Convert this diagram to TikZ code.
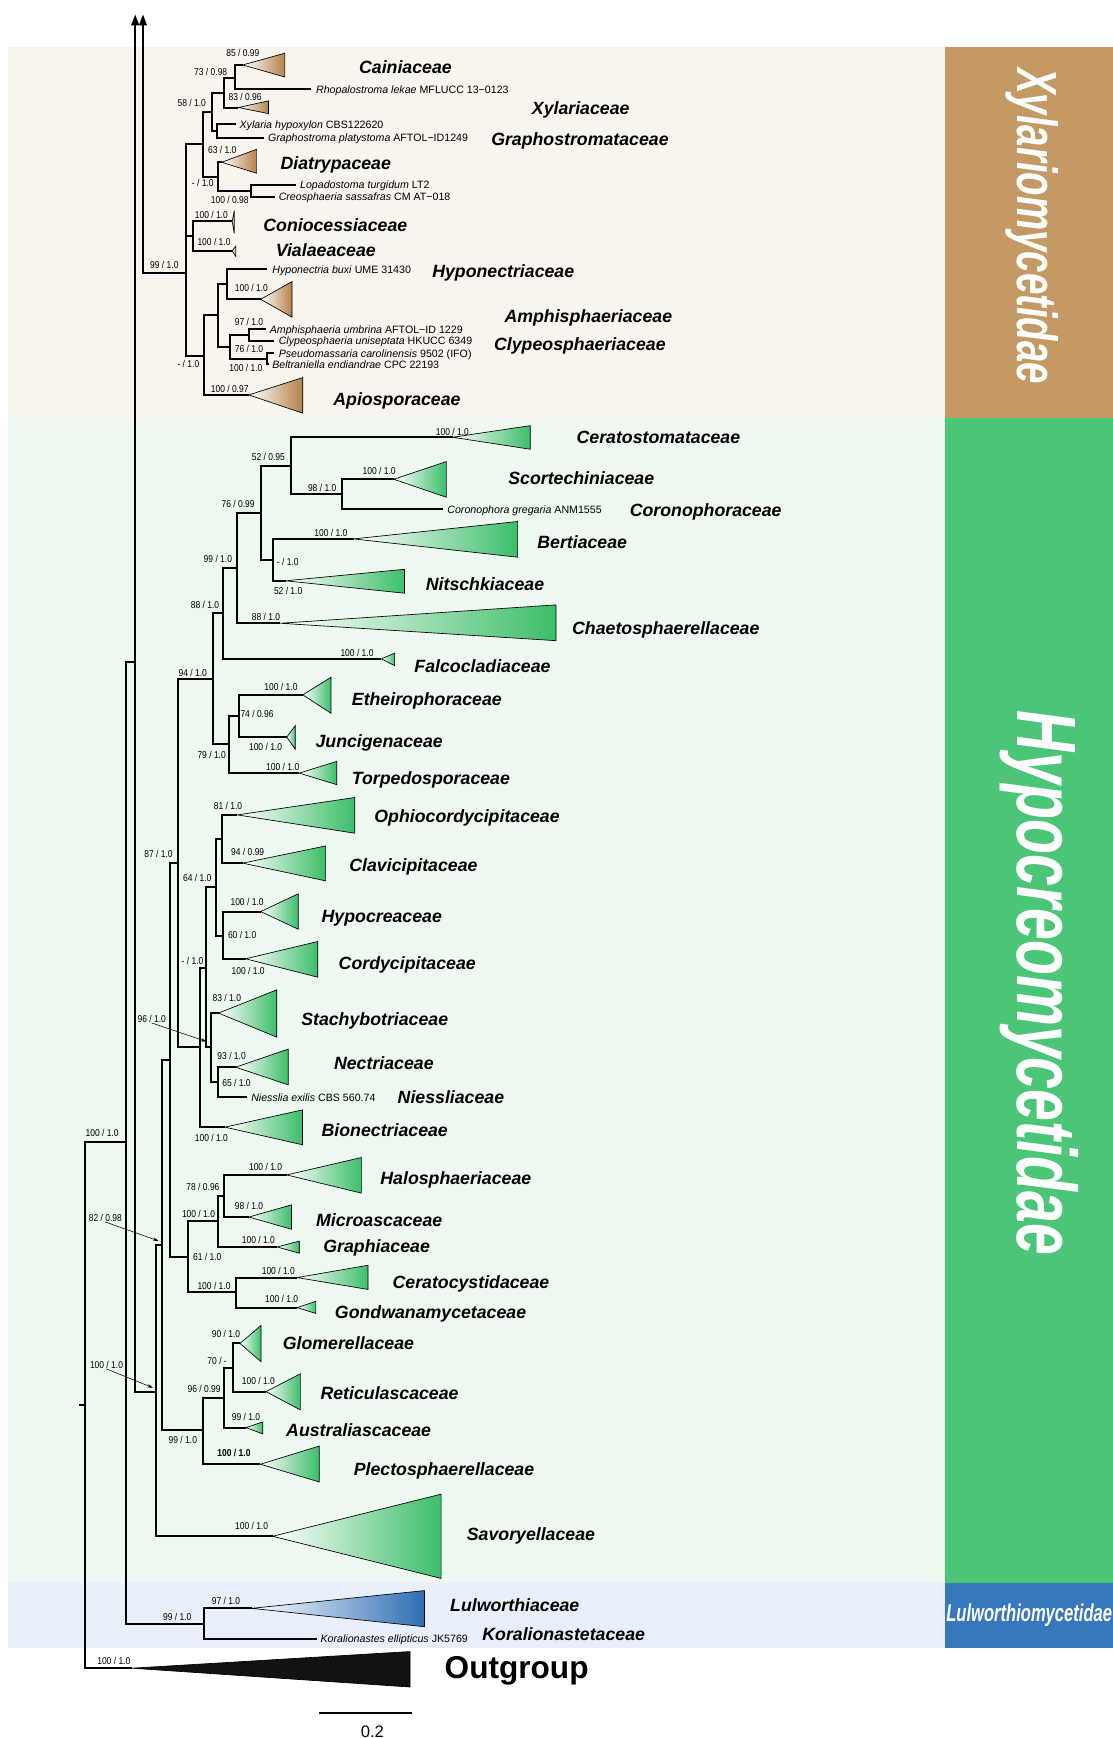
\documentclass[tikz,border=0pt]{standalone}
\usepackage{fontspec}
\setmainfont{Liberation Sans}
\newfontfamily\suppfont[FakeStretch=0.85]{Liberation Sans}
\newfontfamily\condfont[FakeStretch=0.68]{Liberation Sans}
\usetikzlibrary{arrows.meta}

\definecolor{xylbg}{RGB}{248,245,238}
\definecolor{xylbar}{RGB}{196,153,99}
\definecolor{xyltri}{RGB}{180,130,75}
\definecolor{hypbg}{RGB}{237,248,240}
\definecolor{hypbar}{RGB}{75,197,118}
\definecolor{hyptri}{RGB}{60,190,105}
\definecolor{lulbg}{RGB}{233,239,248}
\definecolor{lulbar}{RGB}{55,119,189}
\definecolor{lultri}{RGB}{45,110,180}

% collapsed clade: tip, base x, top y, bottom y, colour
\newcommand{\clade}[5]{%
  \shade[left color=white, right color=#5] (#1) -- (#2,#3) -- (#2,#4) -- cycle;
  \draw[tri] (#1) -- (#2,#3) -- (#2,#4) -- cycle;}

\begin{document}
\begin{tikzpicture}[x=1pt, y=-1pt,
  branch/.style={line width=1.8pt},
  tri/.style={draw=black, line width=0.6pt, line join=miter},
  pointer/.style={line width=0.5pt, -{Stealth[length=5pt,width=3pt]}},
  supp/.style={anchor=west, inner sep=0pt, text height=6.5pt, text depth=0pt, font=\suppfont\fontsize{9}{10}\selectfont},
  taxon/.style={anchor=west, inner sep=0pt, text height=7pt, text depth=0pt, font=\fontsize{9.6}{11}\selectfont},
  family/.style={anchor=west, inner sep=0pt, text height=11.5pt, text depth=0pt, font=\bfseries\itshape\fontsize{16}{18}\selectfont},
  bandlabel/.style={text=white, inner sep=0pt}]

\useasboundingbox (0,0) rectangle (1004,1568);

% background bands
\fill[xylbg] (7,42) rectangle (853,377);
\fill[hypbg] (7,377) rectangle (853,1428);
\fill[lulbg] (7,1428) rectangle (853,1487);
\fill[xylbar] (853,42) rectangle (1004,377);
\fill[hypbar] (853,377) rectangle (1004,1428);
\fill[lulbar] (853,1428) rectangle (1004,1487);

\node[bandlabel, rotate=-90, font=\condfont\bfseries\itshape\fontsize{51}{55}\selectfont] (xylname) at (931,204) {Xylariomycetidae};
\node[bandlabel, rotate=-90, font=\condfont\bfseries\itshape\fontsize{76}{80}\selectfont] (hypname) at (938,887) {Hypocreomycetidae};
\node[bandlabel, font=\condfont\bfseries\itshape\fontsize{22}{24}\selectfont] (lulname) at (928.5,1457) {Lulworthiomycetidae};

% backbone
\coordinate (rootstub) at (71,1268);
\coordinate (root) at (77,1268);
\coordinate (nB) at (114,1030);
\coordinate (outgrp) at (119,1505);
\coordinate (nC) at (122,597);
\coordinate (ctop) at (122,13);
\coordinate (xtop) at (129,13);
\coordinate (nLul) at (184,1465);
\coordinate (lul) at (227,1451);
\coordinate (koral) at (286,1478.5);
\coordinate (nD) at (141,1255.5);
\coordinate (savor) at (246,1386);
\coordinate (nE) at (146.6,1123);
\coordinate (nF) at (182.7,1290.5);
\coordinate (nG) at (202,1261);
\coordinate (plecto) at (235,1321);
\coordinate (nH) at (210,1234);
\coordinate (austr) at (222,1288);
\coordinate (glom) at (216.5,1212);
\coordinate (retic) at (240,1255.5);
\coordinate (nI) at (153,956);
\coordinate (nJ) at (170,1134);
\coordinate (nK) at (196.5,1102);
\coordinate (nL) at (202,1079);
\coordinate (halo) at (258.7,1060);
\coordinate (micro) at (224.5,1098);
\coordinate (graph) at (250,1125);
\coordinate (nM) at (213,1166);
\coordinate (cerato) at (268,1152.6);
\coordinate (gondw) at (268,1179.7);
\coordinate (nN) at (161,778.7);
\coordinate (nO) at (192,612.8);
\coordinate (nP) at (180.4,945);
\coordinate (nQ) at (201.4,553.2);
\coordinate (nR) at (206.8,671.4);
\coordinate (nS) at (214,512.6);
\coordinate (falco) at (344,594.4);
\coordinate (nT) at (235.2,463);
\coordinate (chaeto) at (253,562.3);
\coordinate (nU) at (262.6,420.4);
\coordinate (nV) at (246.5,505.4);
\coordinate (berti) at (319,486.2);
\coordinate (nitsch) at (257.7,524);
\coordinate (ceratost) at (408.5,394.5);
\coordinate (nW) at (308.3,445.9);
\coordinate (scort) at (355.3,432.4);
\coordinate (corono) at (399.5,459.4);
\coordinate (nX) at (215.2,645.9);
\coordinate (torpedo) at (270,697.5);
\coordinate (etheir) at (273.2,626.9);
\coordinate (juncig) at (258.7,665);
\coordinate (nY) at (186.2,873.5);
\coordinate (bionec) at (203,1016.9);
\coordinate (nZ) at (195,800.5);
\coordinate (nAA) at (190.7,945);
\coordinate (stachy) at (197.2,914);
\coordinate (nAB) at (196.5,976.6);
\coordinate (nectr) at (212.6,962.8);
\coordinate (niessl) at (223,989.8);
\coordinate (nAC) at (200.4,757.1);
\coordinate (nAD) at (201.4,844);
\coordinate (ophio) at (214.2,735.2);
\coordinate (clavi) at (219,778.7);
\coordinate (hypocr) at (235.2,822.4);
\coordinate (cordy) at (221.6,865);

% Xylariomycetidae
\coordinate (nXA) at (168,246);
\coordinate (nXyl) at (183,129.5);
\coordinate (nX1) at (191.5,100.7);
\coordinate (nX2) at (202,84);
\coordinate (nX3) at (212,70.7);
\coordinate (cain) at (219,58.6);
\coordinate (rhopa) at (281,80.6);
\coordinate (xylar) at (215,97);
\coordinate (nX4) at (195.6,118.2);
\coordinate (xylhyp) at (212.6,112.1);
\coordinate (graphpl) at (238.4,124.2);
\coordinate (nX5) at (196.5,159.4);
\coordinate (diatr) at (200,146.4);
\coordinate (nX6) at (226.5,172.2);
\coordinate (lopad) at (266.8,166.9);
\coordinate (creos) at (248,177.4);
\coordinate (nCon) at (174,213);
\coordinate (conio) at (209.5,199.8);
\coordinate (viala) at (209.5,226.3);
\coordinate (nAmp) at (184.3,321);
\coordinate (apio) at (224.5,356.3);
\coordinate (nA1) at (196.5,284.5);
\coordinate (nA2) at (205.2,256.4);
\coordinate (hypon) at (241,242.9);
\coordinate (amph) at (235.2,270);
\coordinate (nA3) at (207.2,313.5);
\coordinate (nA4) at (224.5,302.3);
\coordinate (amphum) at (240,297);
\coordinate (clyp) at (247.4,307.6);
\coordinate (nA5) at (240.5,323.7);
\coordinate (pseud) at (247.4,318.7);
\coordinate (beltr) at (243,328.6);

% collapsed clades
\clade{cain}{257}{48}{69.5}{xyltri}
\clade{xylar}{242.3}{91}{102.5}{xyltri}
\clade{diatr}{231.5}{134.7}{156.3}{xyltri}
\clade{conio}{211.3}{190}{210.5}{xyltri}
\clade{viala}{212.8}{222}{231.5}{xyltri}
\clade{amph}{263.5}{254}{286.2}{xyltri}
\clade{apio}{273.2}{340.6}{372.8}{xyltri}
\clade{ceratost}{478.4}{384}{405.3}{hyptri}
\clade{scort}{402.7}{416.4}{448.6}{hyptri}
\clade{berti}{467}{470.5}{502.7}{hyptri}
\clade{nitsch}{365}{513.6}{535.2}{hyptri}
\clade{chaeto}{501.6}{545.7}{578}{hyptri}
\clade{falco}{356}{589.3}{600.5}{hyptri}
\clade{etheir}{298.6}{611}{643.5}{hyptri}
\clade{juncig}{266.4}{654.6}{675.9}{hyptri}
\clade{torpedo}{303.8}{686.9}{707.9}{hyptri}
\clade{ophio}{320}{719.5}{751.7}{hyptri}
\clade{clavi}{293.8}{763.2}{794.7}{hyptri}
\clade{hypocr}{269}{806.4}{838.3}{hyptri}
\clade{cordy}{286.7}{849.4}{881.6}{hyptri}
\clade{stachy}{249.7}{893}{935.7}{hyptri}
\clade{nectr}{260}{946.5}{978.7}{hyptri}
\clade{bionec}{272.9}{1001.3}{1032.8}{hyptri}
\clade{halo}{326}{1044.3}{1076.4}{hyptri}
\clade{micro}{263}{1087}{1109}{hyptri}
\clade{graph}{270}{1119.7}{1130.6}{hyptri}
\clade{cerato}{332}{1141.5}{1163.3}{hyptri}
\clade{gondw}{285}{1174}{1185}{hyptri}
\clade{glom}{235.5}{1195.8}{1228.5}{hyptri}
\clade{retic}{271}{1239.4}{1272}{hyptri}
\clade{austr}{237}{1282.8}{1293.6}{hyptri}
\clade{plecto}{288}{1304.6}{1337}{hyptri}
\clade{savor}{398}{1348}{1424}{hyptri}
\clade{lul}{383}{1435}{1467.6}{lultri}
\filldraw[fill=black!93, draw=black, line width=0.6pt] (outgrp) -- (370,1490) -- (370,1522) -- cycle;

% branches
\draw[branch] (rootstub) -- (root);
\draw[branch] (root) |- (nB);
\draw[branch] (root) |- (outgrp);
\draw[branch] (nB) |- (nC);
\draw[branch] (nB) |- (nLul);
\draw[branch, -{Triangle[length=10pt,width=7pt]}] (nC) -- (ctop);
\draw[branch] (nC) |- (nD);
\draw[branch] (nLul) |- (lul);
\draw[branch] (nLul) |- (koral);
\draw[branch] (nD) |- (nE);
\draw[branch] (nD) |- (savor);
\draw[branch] (nE) |- (nI);
\draw[branch] (nE) |- (nF);
\draw[branch] (nF) |- (nG);
\draw[branch] (nF) |- (plecto);
\draw[branch] (nG) |- (nH);
\draw[branch] (nG) |- (austr);
\draw[branch] (nH) |- (glom);
\draw[branch] (nH) |- (retic);
\draw[branch] (nI) |- (nN);
\draw[branch] (nI) |- (nJ);
\draw[branch] (nJ) |- (nK);
\draw[branch] (nJ) |- (nM);
\draw[branch] (nK) |- (nL);
\draw[branch] (nK) |- (graph);
\draw[branch] (nL) |- (halo);
\draw[branch] (nL) |- (micro);
\draw[branch] (nM) |- (cerato);
\draw[branch] (nM) |- (gondw);
\draw[branch] (nN) |- (nO);
\draw[branch] (nN) |- (nP);
\draw[branch] (nO) |- (nQ);
\draw[branch] (nO) |- (nR);
\draw[branch] (nQ) |- (nS);
\draw[branch] (nQ) |- (falco);
\draw[branch] (nS) |- (nT);
\draw[branch] (nS) |- (chaeto);
\draw[branch] (nT) |- (nU);
\draw[branch] (nT) |- (nV);
\draw[branch] (nU) |- (ceratost);
\draw[branch] (nU) |- (nW);
\draw[branch] (nW) |- (scort);
\draw[branch] (nW) |- (corono);
\draw[branch] (nV) |- (berti);
\draw[branch] (nV) |- (nitsch);
\draw[branch] (nR) |- (nX);
\draw[branch] (nR) |- (torpedo);
\draw[branch] (nX) |- (etheir);
\draw[branch] (nX) |- (juncig);
\draw[branch] (nP) |- (nY);
\draw[branch] (nP) |- (bionec);
\draw[branch] (nY) |- (nZ);
\draw[branch] (nY) |- (nAA);
\draw[branch] (nZ) |- (nAC);
\draw[branch] (nZ) |- (nAD);
\draw[branch] (nAC) |- (ophio);
\draw[branch] (nAC) |- (clavi);
\draw[branch] (nAD) |- (hypocr);
\draw[branch] (nAD) |- (cordy);
\draw[branch] (nAA) |- (stachy);
\draw[branch] (nAA) |- (nAB);
\draw[branch] (nAB) |- (nectr);
\draw[branch] (nAB) |- (niessl);
%% Xylariomycetidae
\draw[branch, {Triangle[length=10pt,width=7pt]}-] (xtop) |- (nXA);
\draw[branch] (nXA) |- (nXyl);
\draw[branch] (nXA) |- (nCon);
\draw[branch] (nXA) |- (nAmp);
\draw[branch] (nXyl) |- (nX1);
\draw[branch] (nXyl) |- (nX5);
\draw[branch] (nX1) |- (nX2);
\draw[branch] (nX1) |- (nX4);
\draw[branch] (nX2) |- (nX3);
\draw[branch] (nX2) |- (xylar);
\draw[branch] (nX3) |- (cain);
\draw[branch] (nX3) |- (rhopa);
\draw[branch] (nX4) |- (xylhyp);
\draw[branch] (nX4) |- (graphpl);
\draw[branch] (nX5) |- (diatr);
\draw[branch] (nX5) |- (nX6);
\draw[branch] (nX6) |- (lopad);
\draw[branch] (nX6) |- (creos);
\draw[branch] (nCon) |- (conio);
\draw[branch] (nCon) |- (viala);
\draw[branch] (nAmp) |- (nA1);
\draw[branch] (nAmp) |- (apio);
\draw[branch] (nA1) |- (nA2);
\draw[branch] (nA1) |- (nA3);
\draw[branch] (nA2) |- (hypon);
\draw[branch] (nA2) |- (amph);
\draw[branch] (nA3) |- (nA4);
\draw[branch] (nA3) |- (nA5);
\draw[branch] (nA4) |- (amphum);
\draw[branch] (nA4) |- (clyp);
\draw[branch] (nA5) |- (pseud);
\draw[branch] (nA5) |- (beltr);

% support values
\node[supp] (bsCain) at (204,47.5) {85 / 0.99};
\node[supp] (bsX3) at (175,64.5) {73 / 0.98};
\node[supp] (bsXylar) at (206,87) {83 / 0.96};
\node[supp] (bsXyl) at (160,93.2) {58 / 1.0};
\node[supp] (bsDiatr) at (187.5,135.3) {63 / 1.0};
\node[supp] (bsX5) at (173,165.4) {- / 1.0};
\node[supp] (bsX6) at (190,180.4) {100 / 0.98};
\node[supp] (bsConio) at (175.6,194) {100 / 1.0};
\node[supp] (bsViala) at (178,218.6) {100 / 1.0};
\node[supp] (bsXA) at (135.3,239) {99 / 1.0};
\node[supp] (bsAmph) at (211.7,260) {100 / 1.0};
\node[supp] (bsA4) at (211.7,290.7) {97 / 1.0};
\node[supp] (bsA3) at (211.7,315) {76 / 1.0};
\node[supp] (bsA5) at (206.8,332.2) {100 / 1.0};
\node[supp] (bsAmp) at (160,328.6) {- / 1.0};
\node[supp] (bsApio) at (190,351.2) {100 / 0.97};
\node[supp] (bsCeratost) at (393,389.4) {100 / 1.0};
\node[supp] (bsU) at (227,412.5) {52 / 0.95};
\node[supp] (bsScort) at (327,424.6) {100 / 1.0};
\node[supp] (bsW) at (277.7,440.5) {98 / 1.0};
\node[supp] (bsT) at (199.7,455) {76 / 0.99};
\node[supp] (bsBerti) at (283.5,481) {100 / 1.0};
\node[supp] (bsS) at (183.6,504.5) {99 / 1.0};
\node[supp] (bsV) at (249.7,507.2) {- / 1.0};
\node[supp] (bsNitsch) at (247,532.8) {52 / 1.0};
\node[supp] (bsQ) at (172,545.7) {88 / 1.0};
\node[supp] (bsChaeto) at (227,556.8) {88 / 1.0};
\node[supp] (bsFalco) at (307,589.3) {100 / 1.0};
\node[supp] (bsO) at (161,607) {94 / 1.0};
\node[supp] (bsEtheir) at (238.4,619.4) {100 / 1.0};
\node[supp] (bsX) at (216.8,644.5) {74 / 0.96};
\node[supp] (bsJuncig) at (224.5,673.5) {100 / 1.0};
\node[supp] (bsR) at (178,681) {79 / 1.0};
\node[supp] (bsTorpedo) at (240,692.2) {100 / 1.0};
\node[supp] (bsOphio) at (192.7,727) {81 / 1.0};
\node[supp] (bsClavi) at (208.4,769) {94 / 0.99};
\node[supp] (bsN) at (130,770.3) {87 / 1.0};
\node[supp] (bsZ) at (165,792.3) {64 / 1.0};
\node[supp] (bsHypocr) at (207.8,813.9) {100 / 1.0};
\node[supp] (bsAD) at (205.5,843.4) {60 / 1.0};
\node[supp] (bsY) at (163.7,866.6) {- / 1.0};
\node[supp] (bsCordy) at (208.8,875.6) {100 / 1.0};
\node[supp] (bsStachy) at (191.7,900.5) {83 / 1.0};
\node[supp] (bsAA) at (124,919.5) {96 / 1.0};
\node[supp] (bsNectr) at (196,952.6) {93 / 1.0};
\node[supp] (bsAB) at (200.4,976.6) {65 / 1.0};
\node[supp] (bsBionec) at (175.6,1026.8) {100 / 1.0};
\node[supp] (bsB) at (77,1022.3) {100 / 1.0};
\node[supp] (bsHalo) at (224.5,1052.4) {100 / 1.0};
\node[supp] (bsL) at (168,1071) {78 / 0.96};
\node[supp] (bsMicro) at (211.7,1088) {98 / 1.0};
\node[supp] (bsK) at (164,1095) {100 / 1.0};
\node[supp] (bsE) at (80,1099) {82 / 0.98};
\node[supp] (bsGraph) at (218,1119) {100 / 1.0};
\node[supp] (bsJ) at (174,1134) {61 / 1.0};
\node[supp] (bsCerato) at (236,1147) {100 / 1.0};
\node[supp] (bsM) at (178,1160) {100 / 1.0};
\node[supp] (bsGondw) at (239,1171.6) {100 / 1.0};
\node[supp] (bsGlom) at (191,1203) {90 / 1.0};
\node[supp] (bsH) at (187,1228) {70 / -};
\node[supp] (bsD) at (81,1231.6) {100 / 1.0};
\node[supp] (bsRetic) at (218,1246) {100 / 1.0};
\node[supp] (bsG) at (169,1253) {96 / 0.99};
\node[supp] (bsAustr) at (209,1278) {99 / 1.0};
\node[supp] (bsF) at (152,1299) {99 / 1.0};
\node[supp, font=\suppfont\bfseries\fontsize{9}{10}\selectfont] (bsPlecto) at (196,1311) {100 / 1.0};
\node[supp] (bsSavor) at (212,1377) {100 / 1.0};
\node[supp] (bsLul) at (191,1444) {97 / 1.0};
\node[supp] (bsLulw) at (147,1458.3) {99 / 1.0};
\node[supp] (bsOut) at (87.6,1498.7) {100 / 1.0};

\coordinate (pAA) at (186.2,939.6);
\coordinate (pE) at (143,1119.5);
\coordinate (pD) at (138,1252);
\draw[pointer] (bsAA.south) -- (pAA);
\draw[pointer] (bsE.south) -- (pE);
\draw[pointer] (bsD.south) -- (pD);

% single taxa
\node[taxon] (tRhopa) at (285,80.6) {\textit{Rhopalostroma lekae} MFLUCC 13−0123};
\node[taxon] (tXylhyp) at (216,112.1) {\textit{Xylaria hypoxylon} CBS122620};
\node[taxon] (tGraphpl) at (241.6,124.2) {\textit{Graphostroma platystoma} AFTOL−ID1249};
\node[taxon] (tLopad) at (270.6,166.9) {\textit{Lopadostoma turgidum} LT2};
\node[taxon] (tCreos) at (251.3,177.4) {\textit{Creosphaeria sassafras} CM AT−018};
\node[taxon] (tHypon) at (245.5,242.9) {\textit{Hyponectria buxi} UME 31430};
\node[taxon] (tAmphum) at (243.2,297) {\textit{Amphisphaeria umbrina} AFTOL−ID 1229};
\node[taxon] (tClyp) at (251.3,307.6) {\textit{Clypeosphaeria uniseptata} HKUCC 6349};
\node[taxon] (tPseud) at (251.3,318.7) {\textit{Pseudomassaria carolinensis} 9502 (IFO)};
\node[taxon] (tBeltr) at (245.5,328.6) {\textit{Beltraniella endiandrae} CPC 22193};
\node[taxon] (tCorono) at (403.4,459.4) {\textit{Coronophora gregaria} ANM1555};
\node[taxon] (tNiessl) at (226.5,989.8) {\textit{Niesslia exilis} CBS 560.74};
\node[taxon] (tKoral) at (289,1478.5) {\textit{Koralionastes ellipticus} JK5769};

% families
\node[family] (fCain) at (323.8,61) {Cainiaceae};
\node[family] (fXylar) at (479.7,97.7) {Xylariaceae};
\node[family] (fGraphost) at (443,125.7) {Graphostromataceae};
\node[family] (fDiatr) at (252.9,147.3) {Diatrypaceae};
\node[family] (fConio) at (237.4,203.5) {Coniocessiaceae};
\node[family] (fViala) at (248.7,225.5) {Vialaeaceae};
\node[family] (fHypon) at (389.8,245) {Hyponectriaceae};
\node[family] (fAmph) at (455,285) {Amphisphaeriaceae};
\node[family] (fClyp) at (445.6,310.6) {Clypeosphaeriaceae};
\node[family] (fApio) at (300.6,359.9) {Apiosporaceae};
\node[family] (fCeratost) at (520,394.5) {Ceratostomataceae};
\node[family] (fScort) at (458.4,431.5) {Scortechiniaceae};
\node[family] (fCorono) at (568,460) {Coronophoraceae};
\node[family] (fBerti) at (484.6,489.5) {Bertiaceae};
\node[family] (fNitsch) at (384,527) {Nitschkiaceae};
\node[family] (fChaeto) at (516,566.8) {Chaetosphaerellaceae};
\node[family] (fFalco) at (373.7,601) {Falcocladiaceae};
\node[family] (fEtheir) at (317.3,630.5) {Etheirophoraceae};
\node[family] (fJuncig) at (284.5,668.4) {Juncigenaceae};
\node[family] (fTorpedo) at (317.3,702) {Torpedosporaceae};
\node[family] (fOphio) at (337.6,736.6) {Ophiocordycipitaceae};
\node[family] (fClavi) at (315,780.3) {Clavicipitaceae};
\node[family] (fHypocr) at (290,826.8) {Hypocreaceae};
\node[family] (fCordy) at (305.4,868.9) {Cordycipitaceae};
\node[family] (fStachy) at (271.6,919.4) {Stachybotriaceae};
\node[family] (fNectr) at (301.2,959.2) {Nectriaceae};
\node[family] (fNiessl) at (358.6,989.8) {Niessliaceae};
\node[family] (fBionec) at (290,1019.3) {Bionectriaceae};
\node[family] (fHalo) at (343,1063) {Halosphaeriaceae};
\node[family] (fMicro) at (285,1101) {Microascaceae};
\node[family] (fGraph) at (291.6,1124) {Graphiaceae};
\node[family] (fCerato) at (354,1157) {Ceratocystidaceae};
\node[family] (fGondw) at (302,1184) {Gondwanamycetaceae};
\node[family] (fGlom) at (255,1212) {Glomerellaceae};
\node[family] (fRetic) at (289,1257) {Reticulascaceae};
\node[family] (fAustr) at (258,1290) {Australiascaceae};
\node[family] (fPlecto) at (319,1325) {Plectosphaerellaceae};
\node[family] (fSavor) at (421,1384) {Savoryellaceae};
\node[family] (fLul) at (406,1448) {Lulworthiaceae};
\node[family] (fKoral) at (435,1474) {Koralionastetaceae};
\node[anchor=west, inner sep=0pt, font=\bfseries\fontsize{28.5}{30}\selectfont] (fOut) at (401,1507) {Outgroup};

% scale bar
\coordinate (sbl) at (287.7,1545.3);
\coordinate (sbr) at (372,1545.3);
\draw[branch] (sbl) -- (sbr);
\node[inner sep=0pt, font=\fontsize{15}{16}\selectfont] (sblabel) at (336,1562.4) {0.2};

\end{tikzpicture}
\end{document}
